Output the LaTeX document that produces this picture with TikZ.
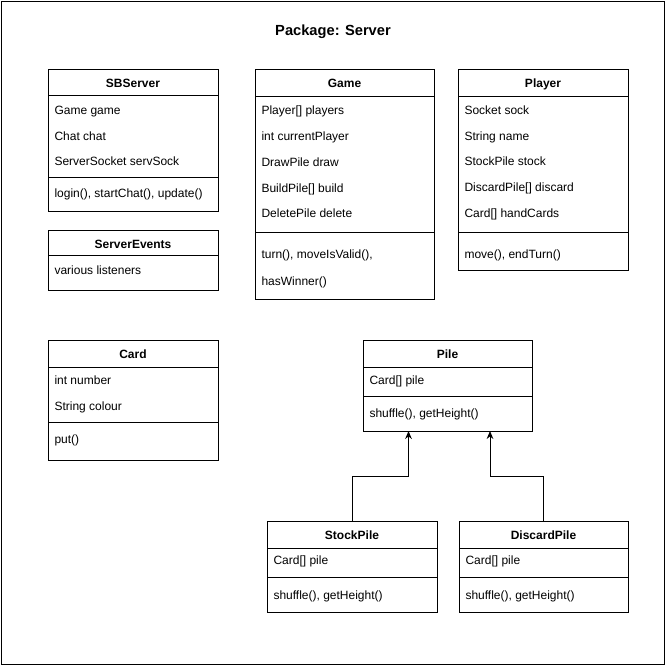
\documentclass[tikz,border=0pt]{standalone}
\usepackage{fontspec}
\setmainfont{Liberation Sans}
\usetikzlibrary{arrows.meta,calc}
\newcommand{\umlclass}[8]{% name, x, y, w, h, header line y, separator y, title
  \node[cls, minimum width=#4*0.75pt, minimum height=#5*0.75pt] (#1) at (#2,#3) {};
  \draw (#2,#6) -- ++(#4,0);
  \draw (#2,#7) -- ++(#4,0);
  \node[hdr] (#1-t) at (#2+#4/2,#3/2+#6/2+4.5) {#8};
}
\newcommand{\umlrow}[4]{% name, x, y, text
  \node[row] (#1) at (#2+6,#3+4.5) {#4};
}
\begin{document}
\begin{tikzpicture}[x=0.75pt,y=-0.75pt,line width=0.75pt,
  cls/.style={draw, anchor=north west, inner sep=0pt, outer sep=0pt},
  hdr/.style={anchor=base, inner sep=0pt, font=\fontsize{9}{10}\selectfont\bfseries},
  row/.style={anchor=base west, inner sep=0pt, font=\fontsize{9}{10}\selectfont},
  ttl/.style={anchor=base, inner sep=0pt, font=\fontsize{11}{12}\selectfont\bfseries},
  inh/.style={-{Stealth[length=6pt,width=5pt]}}]
\useasboundingbox (0,0) rectangle (666,666);
\node[draw, anchor=north west, inner sep=0pt, minimum width=663*0.75pt, minimum height=663*0.75pt] (frame) at (1,1) {};
\node[ttl] (title) at (333,36) {Package: Server};

% SBServer
\umlclass{sb}{48}{70}{170}{142}{96}{178}{SBServer}
\umlrow{sb1}{48}{110}{Game game}
\umlrow{sb2}{48}{136}{Chat chat}
\umlrow{sb3}{48}{161}{ServerSocket servSock}
\umlrow{sb4}{48}{193}{login(), startChat(), update()}

% ServerEvents
\node[cls, minimum width=170*0.75pt, minimum height=59*0.75pt] (se) at (48,231) {};
\draw (48,256) -- ++(170,0);
\node[hdr] (se-t) at (133,248) {ServerEvents};
\umlrow{se1}{48}{270}{various listeners}

% Game
\umlclass{game}{255}{70}{179}{229}{97}{233}{Game}
\umlrow{g1}{255}{110}{Player[] players}
\umlrow{g2}{255}{136}{int currentPlayer}
\umlrow{g3}{255}{162}{DrawPile draw}
\umlrow{g4}{255}{188}{BuildPile[] build}
\umlrow{g5}{255}{213}{DeletePile delete}
\umlrow{g6}{255}{254}{turn(), moveIsValid(),}
\umlrow{g7}{255}{281}{hasWinner()}

% Player
\umlclass{player}{458}{70}{170}{200}{97}{233}{Player}
\umlrow{p1}{458}{110}{Socket sock}
\umlrow{p2}{458}{136}{String name}
\umlrow{p3}{458}{161}{StockPile stock}
\umlrow{p4}{458}{187}{DiscardPile[] discard}
\umlrow{p5}{458}{213}{Card[] handCards}
\umlrow{p6}{458}{254}{move(), endTurn()}

% Card
\umlclass{card}{48}{340}{170}{120}{367}{422}{Card}
\umlrow{c1}{48}{380}{int number}
\umlrow{c2}{48}{406}{String colour}
\umlrow{c3}{48}{439}{put()}

% Pile
\umlclass{pile}{363}{340}{169}{91}{367}{396}{Pile}
\umlrow{pi1}{363}{380}{Card[] pile}
\umlrow{pi2}{363}{413}{shuffle(), getHeight()}

% StockPile
\umlclass{stock}{267}{521}{170}{91}{548}{577}{StockPile}
\umlrow{st1}{267}{560}{Card[] pile}
\umlrow{st2}{267}{595}{shuffle(), getHeight()}

% DiscardPile
\umlclass{discard}{459}{521}{169}{91}{548}{577}{DiscardPile}
\umlrow{d1}{459}{560}{Card[] pile}
\umlrow{d2}{459}{595}{shuffle(), getHeight()}

% inheritance connectors
\coordinate (pA) at ($(pile.south west)+(45.5,0)$);
\coordinate (pB) at ($(pile.south west)+(127,0)$);
\draw[inh] (stock.north) -- ++(0,-45) -| (pA);
\draw[inh] (discard.north) -- ++(0,-45) -| (pB);
\end{tikzpicture}
\end{document}
